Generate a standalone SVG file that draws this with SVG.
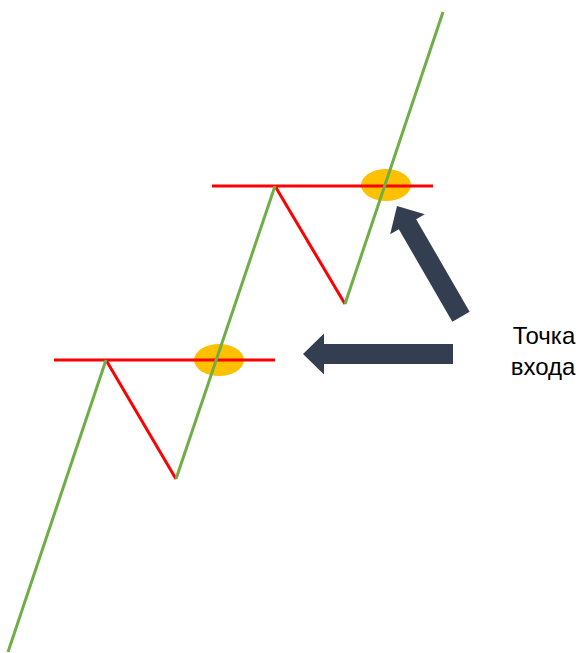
<svg xmlns="http://www.w3.org/2000/svg" width="585" height="653" viewBox="0 0 585 653">
<style>
.lvl{stroke:#FF0000;stroke-width:3;fill:none}
.up{stroke:#70AD47;stroke-width:3;fill:none}
.dn{stroke:#FF0000;stroke-width:3;fill:none}
.spot{fill:#FFC000}
.arr{fill:#333F50}
.lbl{font-family:"Liberation Sans",Arial,sans-serif;font-size:24px;fill:#000;text-anchor:middle}
</style>
<rect width="585" height="653" fill="#fff"/>
<g id="entry-low"><ellipse class="spot" cx="219" cy="360" rx="25" ry="16"/></g>
<g id="entry-high"><ellipse class="spot" cx="386" cy="185" rx="25" ry="16"/></g>
<g id="level-low"><line class="lvl" x1="54" y1="360" x2="275" y2="360"/></g>
<g id="level-high"><line class="lvl" x1="212" y1="186" x2="433" y2="186"/></g>
<g id="connectors">
<line class="dn" x1="106" y1="360" x2="176" y2="479"/>
<line class="dn" x1="275" y1="186" x2="345" y2="304"/>
<line class="up" x1="8" y1="652" x2="106" y2="360"/>
<line class="up" x1="176" y1="479" x2="275" y2="186"/>
<line class="up" x1="345" y1="304" x2="443" y2="12"/>
</g>
<g id="arrow-left"><path class="arr" transform="translate(303,354)" d="M0,0 L21,-20.5 L21,-10 L150,-10 L150,10 L21,10 L21,20.5 Z"/></g>
<g id="arrow-diag"><path class="arr" transform="translate(397,206) rotate(60)" d="M0,0 L21,-20 L21,-10 L128,-10 L128,10 L21,10 L21,20 Z"/></g>
<g id="label"><text class="lbl" x="544" y="344">Точка</text><text class="lbl" x="543" y="375">входа</text></g>
</svg>
